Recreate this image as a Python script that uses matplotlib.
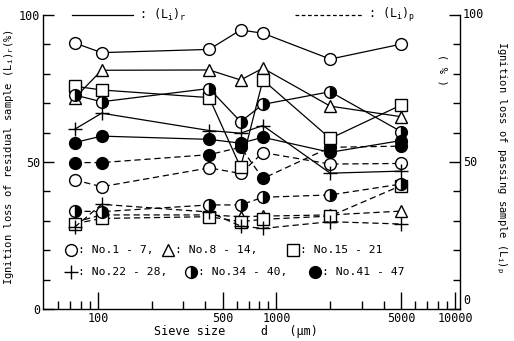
import matplotlib
matplotlib.use("Agg")
import matplotlib.pyplot as plt
from matplotlib.lines import Line2D
from matplotlib.ticker import FixedLocator, FixedFormatter, NullFormatter

plt.rcParams['font.family'] = ['DejaVu Sans Mono', 'DejaVu Sans']
plt.rcParams['mathtext.fontset'] = 'custom'
plt.rcParams['mathtext.rm'] = 'DejaVu Sans Mono'

# sieve size d (um)
d = [74, 105, 420, 630, 840, 2000, 5000]

# (Li)r : residual sample, solid lines
circ_r = [90.5, 87.2, 88.3, 94.9, 93.8, 85.0, 90.1]
tri_r = [71.7, 81.2, 81.3, 77.9, 81.9, 69.0, 65.4]
sq_r = [75.8, 74.5, 71.9, 48.2, 77.9, 58.0, 69.4]
plus_r = [61.1, 66.6, 60.7, 59.8, 62.4, 46.2, 46.9]
half_r = [72.8, 70.5, 75.0, 63.7, 69.6, 73.9, 60.3]
fill_r = [56.6, 58.8, 57.7, 56.4, 58.4, 53.3, 57.3]

# (Li)p : passing sample, dashed lines
circ_p = [43.9, 41.6, 48.0, 46.1, 53.2, 49.3, 49.5]
fill_p = [49.8, 49.8, 52.5, 55.0, 44.4, 55.0, 55.4]
half_p = [33.3, 33.1, 35.4, 35.4, 38.0, 38.8, 42.5]
tri_p = [29.5, 32.0, 32.0, 31.4, 31.6, 32.0, 33.3]
sq_p = [29.0, 30.8, 31.4, 29.7, 30.5, 31.6, 42.0]
plus_p = [27.8, 35.6, 33.0, 28.2, 27.4, 29.7, 28.9]

groups = ["No.1 - 7", "No.8 - 14", "No.15 - 21", "No.22 - 28", "No.34 - 40", "No.41 - 47"]
x_ticks = [100, 500, 1000, 5000, 10000]
x_ticklabels = ['100', '500', '1000', '5000', '10000']

W, H = 514, 341
fig = plt.figure(figsize=(W / 100, H / 100), dpi=100)
ax = fig.add_axes([43 / W, 1 - 309 / H, 417 / W, 294 / H])

styles = {
    'o': dict(marker='o', mfc='white'),
    '^': dict(marker='^', mfc='white'),
    's': dict(marker='s', mfc='white'),
    '+': dict(marker='+', mfc='white', mew=1.0),
    'h': dict(marker='o', mfc='black', mfcalt='white', fillstyle='right'),
    'f': dict(marker='o', mfc='black'),
}
series_r = [('o', circ_r), ('^', tri_r), ('s', sq_r), ('+', plus_r), ('h', half_r), ('f', fill_r)]
series_p = [('o', circ_p), ('^', tri_p), ('s', sq_p), ('+', plus_p), ('h', half_p), ('f', fill_p)]

for key, vals in series_p:
    ax.plot(d, vals, color='black', lw=0.9, ls=(0, (5, 3)), ms=8.5 if key != '+' else 10,
            mec='black', **styles[key])
for key, vals in series_r:
    ax.plot(d, vals, color='black', lw=0.9, ls='-', ms=8.5 if key != '+' else 10,
            mec='black', **styles[key])

ax.set_xscale('log')
ax.set_xlim(49.3, 10660)
ax.set_ylim(0, 100)

ax.spines['top'].set_visible(False)
for s in ['left', 'right', 'bottom']:
    ax.spines[s].set_linewidth(1.0)

ax.xaxis.set_major_locator(FixedLocator(x_ticks))
ax.xaxis.set_major_formatter(FixedFormatter(x_ticklabels))
minor_x = [60, 70, 80, 90, 200, 300, 400, 600, 700, 800, 900,
           2000, 3000, 4000, 6000, 7000, 8000, 9000]
ax.xaxis.set_minor_locator(FixedLocator(minor_x))
ax.xaxis.set_minor_formatter(NullFormatter())
ax.tick_params(axis='x', which='major', direction='in', length=12, width=1, pad=2, labelsize=8.5)
ax.tick_params(axis='x', which='minor', direction='in', length=5.5, width=1)

ax.yaxis.set_major_locator(FixedLocator([0, 50, 100]))
ax.yaxis.set_minor_locator(FixedLocator([10, 20, 30, 40, 60, 70, 80, 90]))
ax.tick_params(axis='y', which='major', direction='in', length=8, width=1, pad=2, labelsize=8.5,
               right=True, labelright=False)
ax.tick_params(axis='y', which='minor', direction='in', length=5, width=1, right=True)

# right-hand labels (0 raised a little so it clears the 10000 label)
for v in [100, 50]:
    ax.text(1.0 + 3 / 417, v, str(v), transform=ax.get_yaxis_transform(),
            fontsize=8.5, va='center', ha='left')
ax.text(1.0 + 3 / 417, 0.6, "0", transform=ax.get_yaxis_transform(),
        fontsize=8.5, va='bottom', ha='left')

fig.text(236 / W, 1 - 331 / H, "Sieve size     d   (\u03bcm)", fontsize=8.5, ha='center', va='center')
fig.text(0.018, 0.54, "Ignition loss of residual sample (L$_{\\rm i}$)$_{\\rm r}$(%)",
         rotation=90, fontsize=7.6, ha='center', va='center')
fig.text(0.975, 0.54, "Ignition loss of passing sample (L$_{\\rm i}$)$_{\\rm p}$",
         rotation=270, fontsize=7.6, ha='center', va='center')
fig.text(443 / W, 1 - 70 / H, "( % )", rotation=270, fontsize=7.6, ha='center', va='center')

# line style key at top
ytop = 1 - 15 / H
fig.add_artist(Line2D([72 / W, 133 / W], [ytop, ytop], color='black', lw=0.9))
fig.text(139 / W, ytop, ": (L$_{\\rm i}$)$_{\\rm r}$", fontsize=8.5, va='center')
fig.add_artist(Line2D([295 / W, 362 / W], [ytop, ytop], color='black', lw=0.9, ls=(0, (3, 2))))
fig.text(368 / W, ytop, ": (L$_{\\rm i}$)$_{\\rm p}$", fontsize=8.5, va='center')

# marker key inside the axes
key_pos = [('o', 70.7, 250), ('^', 168, 250), ('s', 292.7, 250),
           ('+', 70.5, 271.7), ('h', 191, 271.7), ('f', 315, 271.7)]
for (key, px, py), label in zip(key_pos, groups):
    xa = (px - 43) / 417
    ya = (309 - py) / 294
    ax.plot([xa], [ya], transform=ax.transAxes, color='black', ls='none',
            ms=8.5 if key != '+' else 10, mec='black', clip_on=False, **styles[key])
    txt = ": " + label + ("" if label in ("No.15 - 21", "No.41 - 47") else ",")
    ax.text(xa + 7 / 417, ya, txt, transform=ax.transAxes, fontsize=8.2, va='center')

fig.savefig("out.png", dpi=100)
